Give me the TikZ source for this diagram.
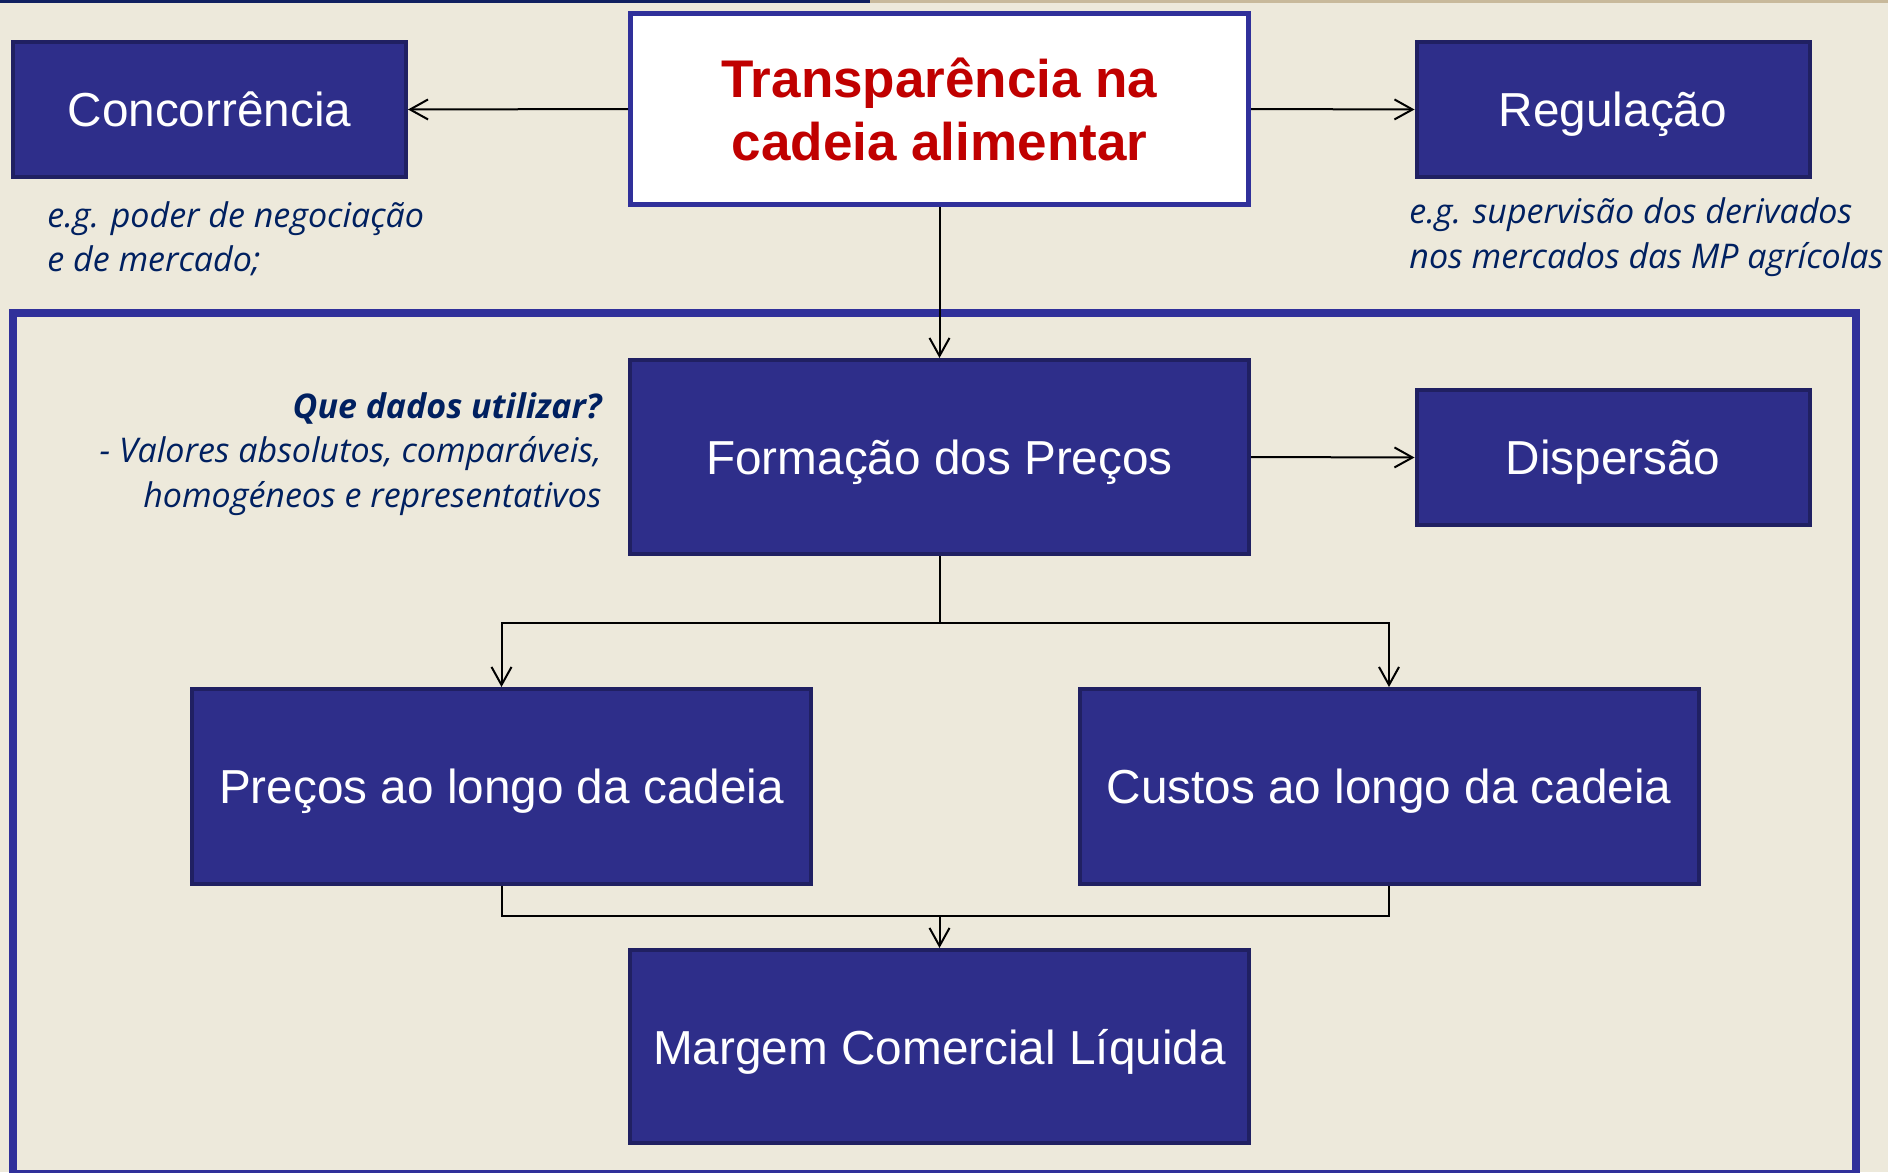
\documentclass[tikz,border=0pt]{standalone}
\usepackage{fontspec}
\setmainfont{Liberation Sans}
\newfontfamily\osans{Open Sans}
\usetikzlibrary{arrows.meta}
\definecolor{bg}{RGB}{237,233,219}
\definecolor{boxfill}{RGB}{46,46,138}
\definecolor{boxedge}{RGB}{32,32,98}
\definecolor{framec}{RGB}{48,48,154}
\definecolor{navytext}{RGB}{0,32,96}
\definecolor{titlered}{RGB}{192,0,0}
\definecolor{topdark}{RGB}{16,32,96}
\definecolor{toptan}{RGB}{200,185,155}
\begin{document}
\begin{tikzpicture}[x=0.5pt,y=-0.5pt,
  bluebox/.style={draw=boxedge, line width=2pt, fill=boxfill, text=white,
    font=\fontsize{23.85}{28}\selectfont, inner sep=0pt, text depth=0pt},
  bigbox/.style={bluebox, minimum width=309.5pt, minimum height=97pt},
  smallbox/.style={bluebox, minimum width=196.5pt, minimum height=67.5pt},
  titlebox/.style={draw=framec, line width=2.5pt, fill=white, text=titlered,
    font=\bfseries\fontsize{26.5}{31.5}\selectfont, align=center,
    minimum width=309pt, minimum height=95.5pt, inner sep=0pt},
  conn/.style={line width=1pt, black},
  arr/.style={conn, -{Straight Barb[length=9pt,width=10pt]}},
  note/.style={text=navytext, font=\osans\itshape\fontsize{17}{22}\selectfont, inner sep=0pt},
  notebold/.style={note, font=\osans\bfseries\itshape\fontsize{17}{22}\selectfont}]
\fill[bg] (0,0) rectangle (1888,1172);
\useasboundingbox (0,0) rectangle (1888,1172);
\fill[topdark] (0,0) rectangle (870,3.5);
\fill[toptan] (870,0) rectangle (1888,3.5);
% frame
\draw[framec, line width=4pt] (13,313) rectangle (1856,1174);
% nodes
\node[titlebox] (trans) at (939.5,109) {Transparência na\\cadeia alimentar};
\node[smallbox] (conc) at (209.5,109.5) {Concorrência};
\node[smallbox] (regu) at (1613,109.5) {Regulação};
\node[bigbox] (form) at (939.5,457) {Formação dos Preços};
\node[smallbox] (disp) at (1613,457.5) {Dispersão};
\node[bigbox, minimum height=97.5pt] (prec) at (501.5,786.5) {Preços ao longo da cadeia};
\node[bigbox, minimum height=97.5pt] (cust) at (1389,786.5) {Custos ao longo da cadeia};
\node[bigbox, minimum height=96.5pt] (marg) at (939.5,1046.5) {Margem Comercial Líquida};
% notes
\node[note, anchor=base west] (nl1) at (47,227) {e.g. poder de negociação};
\node[note, anchor=base west] (nl2) at (47,271) {e de mercado;};
\node[note, anchor=base west] (nr1) at (1409,223) {e.g. supervisão dos derivados};
\node[note, anchor=base west] (nr2) at (1409,268) {nos mercados das MP agrícolas};
\node[notebold, anchor=base east] (q1) at (602,418) {Que dados utilizar?};
\node[note, anchor=base east] (q2) at (602,462) {- Valores absolutos, comparáveis,};
\node[note, anchor=base east] (q3) at (602,507) {homogéneos e representativos};
% connectors
\draw[arr] (trans.west) -- (conc.east);
\draw[arr] (trans.east) -- (regu.west);
\draw[arr] (trans.south) -- (form.north);
\draw[arr] (form.east) -- (disp.west);
\coordinate (b1) at (939.5,622.5);
\draw[conn] (form.south) -- (b1);
\draw[arr] (b1) -| (prec.north);
\draw[arr] (b1) -| (cust.north);
\coordinate (b2) at (939.5,916);
\draw[conn] (prec.south) |- (b2);
\draw[conn] (cust.south) |- (b2);
\draw[arr] (b2) -- (marg.north);
\end{tikzpicture}
\end{document}
